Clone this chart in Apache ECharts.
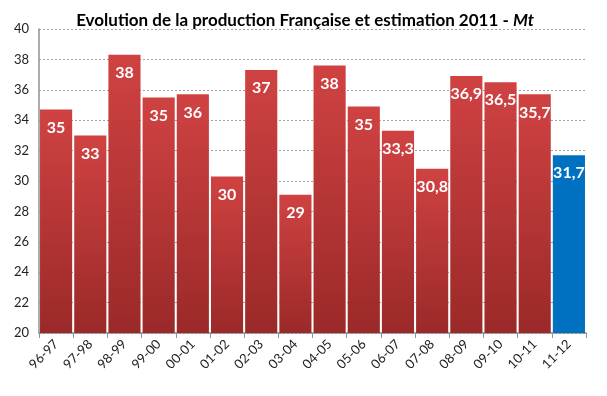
<!DOCTYPE html>
<html>
<head>
<meta charset="utf-8">
<script src="https://cdn.jsdelivr.net/npm/echarts@6/dist/echarts.min.js"></script>
<style>
html,body{margin:0;padding:0;background:#fff;}
#chart{width:607px;height:396px;}
</style>
</head>
<body>
<div id="chart"></div>
<script>
var categories = ['96-97','97-98','98-99','99-00','00-01','01-02','02-03','03-04','04-05','05-06','06-07','07-08','08-09','09-10','10-11','11-12'];
var values = [34.7, 33.0, 38.3, 35.5, 35.7, 30.3, 37.3, 29.1, 37.6, 34.9, 33.3, 30.8, 36.9, 36.5, 35.7, 31.7];
var valueLabels = ['35','33','38','35','36','30','37','29','38','35','33,3','30,8','36,9','36,5','35,7','31,7'];
var estimateIndex = 15;

var redGrad = {type:'linear',x:0,y:0,x2:0,y2:1,colorStops:[{offset:0,color:'#d04242'},{offset:1,color:'#9b2929'}]};
var blue = '#0070c0';

var data = values.map(function(v,i){
  return {value:v, itemStyle:{color: i===estimateIndex ? blue : redGrad}};
});

var chart = echarts.init(document.getElementById('chart'));
chart.setOption({
  animation:false,
  backgroundColor:'#ffffff',
  title:{
    text:'{b|Evolution de la production Française et estimation 2011 - }{i|Mt}',
    left:300, textAlign:'center', top:7,
    textStyle:{
      rich:{
        b:{fontFamily:'Lato, "Open Sans", sans-serif',fontWeight:'bold',fontSize:17,color:'#000'},
        i:{fontFamily:'Lato, "Open Sans", sans-serif',fontWeight:'bold',fontStyle:'italic',fontSize:17,color:'#000'}
      }
    }
  },
  grid:{left:39,right:21,top:29,bottom:63,containLabel:false},
  xAxis:{
    type:'category', data:categories,
    axisLine:{show:true,lineStyle:{color:'#909090',width:1.5}},
    axisTick:{show:true,alignWithLabel:false,length:5,lineStyle:{color:'#909090'}},
    axisLabel:{rotate:45,fontFamily:'Lato, "Open Sans", sans-serif',fontSize:13,color:'#222',margin:9,interval:0},
    splitLine:{show:false}
  },
  yAxis:{
    type:'value', min:20, max:40, interval:2,
    axisLine:{show:true,lineStyle:{color:'#909090',width:1.5}},
    axisTick:{show:false},
    axisLabel:{fontFamily:'Lato, "Open Sans", sans-serif',fontSize:13,color:'#222',margin:10},
    splitLine:{show:true,lineStyle:{color:'#a0a0a0',type:[2,2],width:1}}
  },
  series:[{
    type:'bar', data:data, barCategoryGap:'6%',
    label:{
      show:true, position:'insideTop', distance:10,
      formatter:function(p){return valueLabels[p.dataIndex];},
      color:'#fff', fontWeight:'bold', fontSize:16,
      fontFamily:'Lato, "Open Sans", sans-serif'
    }
  }]
});
</script>
</body>
</html>
